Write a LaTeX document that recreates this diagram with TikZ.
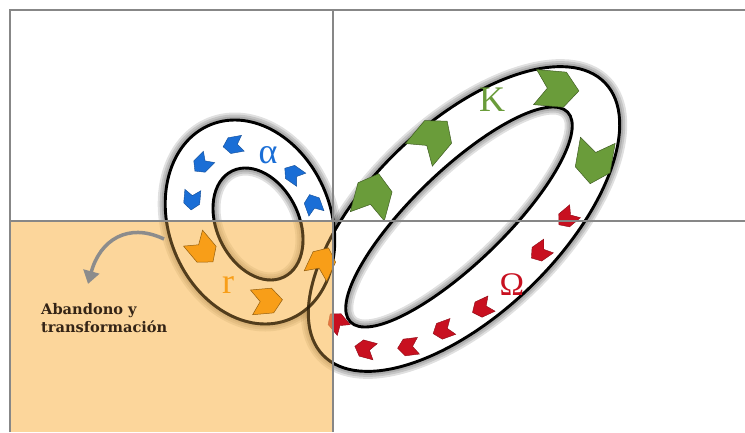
\documentclass[tikz,border=0pt]{standalone}
\usepackage{fontspec}
\setmainfont{Liberation Serif}
\newfontfamily\notefont{DejaVu Serif}
\usepackage{xcolor}
\usepackage{tikz}
\usetikzlibrary{arrows.meta, positioning}
\definecolor{alphablue}{RGB}{26,110,214}
\definecolor{kgreen}{RGB}{106,156,58}
\definecolor{omegared}{RGB}{200,16,32}
\definecolor{rorange}{RGB}{248,158,24}
\definecolor{gridgray}{RGB}{135,135,135}
\definecolor{arrowgray}{RGB}{140,140,140}
\definecolor{tint}{RGB}{250,187,88}
\definecolor{notebrown}{RGB}{52,36,22}
\tikzset{
  gridline/.style={draw=gridgray, line width=2.2pt},
  ringfill/.style={fill=white, even odd rule},
  ringline/.style={draw=black, line width=2.9pt},
  ringglow/.style={draw=black, opacity=0.12},
  tintbox/.style={fill=tint, opacity=0.6},
  phase/.style={font=\fontsize{36}{36}\selectfont, inner sep=0pt},
  chevblue/.style={fill=alphablue, draw=alphablue!70!black, line width=0.4pt},
  chevgreen/.style={fill=kgreen, draw=kgreen!60!black, line width=0.5pt},
  chevred/.style={fill=omegared, draw=omegared!70!black, line width=0.4pt},
  chevorange/.style={fill=rorange, draw=rorange!60!black, line width=0.5pt},
  turnarrow/.style={draw=arrowgray, line width=3.5pt, -{Triangle[length=13pt, width=16pt]}},
  notetext/.style={font=\notefont\bfseries\fontsize{14.6}{18}\selectfont, text=notebrown, align=left, inner sep=0pt}
}
\newcommand{\chevron}[5]{% x, y, angle, size, style
  \filldraw[#5, shift={(#1,#2)}, rotate=#3, scale=#4]
    (-0.5,0.4) -- (0.18,0.4) -- (0.5,0) -- (0.18,-0.4) -- (-0.5,-0.4) -- (-0.22,0) -- cycle;}

\begin{document}
\begin{tikzpicture}[x=1pt, y=-1pt]
\useasboundingbox (0,0) rectangle (745,432);

% ring centres
\coordinate (smallc) at (250,222);
\coordinate (smallh) at (258,224);
\coordinate (bigc) at (464,219);
\coordinate (bigh) at (459,217);

% soft shadow round the rings
\foreach \w in {15,11,7} {
  \draw[ringglow, line width=\w pt] (smallc) ellipse [x radius=81, y radius=105, rotate=22];
  \draw[ringglow, line width=\w pt] (smallh) ellipse [x radius=41, y radius=59, rotate=26];
  \draw[ringglow, line width=\w pt] (bigc) ellipse [x radius=196, y radius=95, rotate=44];
  \draw[ringglow, line width=\w pt] (bigh) ellipse [x radius=151, y radius=46, rotate=44];
}

% rings
\fill[ringfill] (smallc) ellipse [x radius=81, y radius=105, rotate=22]
                (smallh) ellipse [x radius=41, y radius=59, rotate=26];
\fill[ringfill] (bigc) ellipse [x radius=196, y radius=95, rotate=44]
                (bigh) ellipse [x radius=151, y radius=46, rotate=44];
\draw[ringline] (smallc) ellipse [x radius=81, y radius=105, rotate=22];
\draw[ringline] (smallh) ellipse [x radius=41, y radius=59, rotate=26];
\draw[ringline] (bigc) ellipse [x radius=196, y radius=95, rotate=44];
\draw[ringline] (bigh) ellipse [x radius=151, y radius=46, rotate=44];

% alpha and K and Omega arrows
\foreach \px/\py/\pa in {192/200/265, 202/164/225, 233/145/190, 293/174/145, 313/204/110}
  \chevron{\px}{\py}{\pa}{20}{chevblue};
\foreach \px/\py/\pa in {373/195/75, 433/138/50, 557/89/-5, 594/162/-100}
  \chevron{\px}{\py}{\pa}{44}{chevgreen};
\foreach \px/\py/\pa in {567/218/220, 540/252/215, 482/308/205, 443/330/200, 408/347/187, 365/349/165, 337/322/130}
  \chevron{\px}{\py}{\pa}{21}{chevred};

\node[phase, text=alphablue] (alpha) at (268,155) {α};
\node[phase, text=kgreen] (kappa) at (492,100) {K};
\node[phase, text=omegared, font=\fontsize{33}{33}\selectfont] (omega) at (512,285) {Ω};

% lower left quadrant
\fill[tintbox] (10,221) rectangle (333,432);
\begin{scope}
  \clip (10,221) rectangle (333,432);
  \draw[ringline, opacity=0.45] (smallc) ellipse [x radius=81, y radius=105, rotate=22];
  \draw[ringline, opacity=0.45] (smallh) ellipse [x radius=41, y radius=59, rotate=26];
  \draw[ringline, opacity=0.45] (bigc) ellipse [x radius=196, y radius=95, rotate=44];
\end{scope}

\foreach \px/\py/\pa in {203/250/-50, 267/301/5, 322/262/65}
  \chevron{\px}{\py}{\pa}{31}{chevorange};
\node[phase, text=rorange] (rphase) at (228,285) {r};

\coordinate (turnfrom) at (164,239);
\coordinate (turnto) at (88,284);
\draw[turnarrow] (turnfrom) .. controls (128,222) and (100,240) .. (turnto);
\node[notetext, anchor=north west] (abandono) at (41,303) {Abandono y\\transformación};

% frame
\draw[gridline] (10,432) -- (10,10) -- (745,10);
\draw[gridline] (333,10) -- (333,432);
\draw[gridline] (10,221) -- (745,221);
\end{tikzpicture}
\end{document}
